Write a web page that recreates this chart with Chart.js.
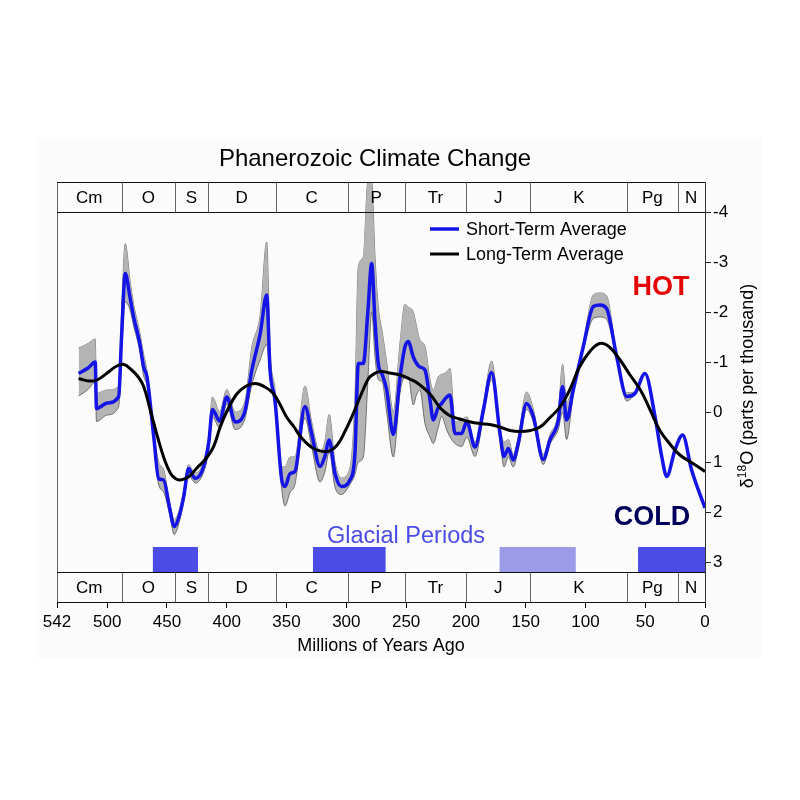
<!DOCTYPE html>
<html><head><meta charset="utf-8">
<script src="https://cdn.jsdelivr.net/npm/chart.js@4.4.0/dist/chart.umd.min.js"></script>
<style>html,body{margin:0;padding:0;background:#fff}canvas{display:block}</style>
</head><body>
<canvas id="c" width="800" height="800" style="width:800px;height:800px"></canvas>
<script>
// ---------------- DATA ----------------
const shortAges = [523.9,516,510,509,500,490.4,488,484.9,481,477.9,473,469.5,466.7,461.1,457,452.8,448,443.9,440,436,431.9,429,426.3,419.3,415,412,406,400,393,385,379,372,366.6,363.8,359.7,354,351.3,347,343,334.6,329,322,318,314.3,309.5,304,297,292.8,290,285.8,282,278.8,276,273.3,270,266.3,260.7,255,251,248.2,244,241.2,238.5,234.2,230,227.3,223,220.3,216,213.3,209.1,203.5,199.3,192.4,185.4,178.5,171.5,168.1,164.5,160.4,156.2,149.2,143.6,135.3,129.7,122.7,119.1,115.8,110.2,101.8,93.4,87.8,82.3,73.9,65.5,58.6,50.2,41.8,36.2,32,25.1,18.7,11.2,0];
const shortValues = [-0.77,-0.88,-1.0,-0.07,-0.18,-0.31,-1.5,-2.77,-2.3,-1.9,-1.4,-0.9,-0.7,0.49,1.33,1.36,1.9,2.29,2.1,1.69,1.13,1.25,1.33,1.09,0.6,-0.05,0.18,-0.3,0.2,0.0,-0.84,-1.57,-2.34,-0.84,-0.24,1.36,1.49,1.23,1.19,-0.11,0.43,1.09,0.89,0.56,1.23,1.49,1.36,0.83,-0.97,-0.97,-2.0,-2.97,-1.8,-0.97,-0.75,-0.45,0.45,-0.71,-1.3,-1.41,-1.1,-0.97,-0.9,-0.84,-0.24,0.16,-0.1,-0.17,-0.3,-0.34,0.43,0.43,0.19,0.7,-0.04,-0.79,0.43,0.89,0.73,0.96,0.63,-0.17,0.09,0.95,0.56,0.16,-0.51,0.16,-0.44,-1.31,-2.11,-2.14,-2.07,-1.11,-0.31,-0.37,-0.77,0.09,0.89,1.29,0.76,0.46,1.16,1.92];
// uncertainty envelope (same ages as shortAges, first entries)
const envUpper = [-1.28,-1.37,-1.46,-0.37,-0.44,-0.51,-2.0,-3.37,-2.65,-2.15,-1.62,-1.15,-0.82,0.38,1.0,1.15,1.78,2.15,1.98,1.58,1.05,1.15,1.22,0.98,0.45,-0.3,0.0,-0.45,0.0,-0.2,-1.3,-1.95,-3.4,-1.25,-0.45,1.1,1.1,0.9,0.9,-0.52,0.2,0.8,0.6,0.05,1.0,1.32,1.12,-0.3,-2.9,-3.1,-4.6,-4.6,-3.1,-2.1,-1.6,-1.0,0.0,-1.4,-2.15,-2.1,-2.0,-1.7,-1.44,-1.31,-0.64,-0.44,-0.71,-0.75,-0.8,-0.87,0.2,0.15,0.1,0.6,-0.15,-1.02,0.3,0.6,0.55,0.85,0.5,-0.4,-0.05,0.85,0.45,0.0,-0.95,-0.2,-0.55,-1.38,-2.34,-2.38,-2.32,-1.15,-0.38,-0.4];
const envLower = [-0.32,-0.45,-0.6,0.19,0.06,-0.11,-1.2,-2.2,-2.05,-1.72,-1.25,-0.72,-0.52,0.6,1.45,1.6,2.02,2.45,2.22,1.8,1.22,1.35,1.42,1.2,0.75,0.1,0.32,-0.15,0.35,0.15,-0.55,-1.05,-1.35,-0.68,-0.08,1.55,1.88,1.6,1.45,0.12,0.7,1.4,1.2,0.8,1.5,1.65,1.45,1.25,1.0,0.9,-0.6,-2.0,-1.1,-0.65,-0.6,0.0,0.9,-0.4,-0.7,-0.7,-0.14,-0.35,-0.44,0.23,0.5,0.63,0.3,0.09,0.36,0.5,0.63,0.69,0.5,0.89,0.1,-0.65,0.55,1.1,0.9,1.1,0.75,-0.05,0.2,1.05,0.65,0.35,0.0,0.55,-0.35,-1.24,-1.87,-1.9,-1.85,-1.07,-0.22,-0.34];
const longAges = [524,515,508.5,500,492,486,480,474,469.5,464,458,452,447,443,439,432,425,418,411,405.5,400,392,385,376,368,361,355,350,344,338,328,316,308,301,294,288,283,280,272,264,255,247,240,230,221,213,205,196,188,180,171.5,163,155,146,138,130,121,113,105,96,88,80,71,63,54,46,38,29,21,10,0];
const longValues = [-0.67,-0.62,-0.64,-0.78,-0.92,-0.95,-0.85,-0.7,-0.51,-0.04,0.49,0.96,1.23,1.33,1.36,1.3,1.12,0.95,0.69,0.3,-0.01,-0.35,-0.5,-0.57,-0.5,-0.37,-0.13,0.1,0.29,0.5,0.72,0.79,0.67,0.38,0.02,-0.33,-0.6,-0.71,-0.81,-0.78,-0.74,-0.66,-0.57,-0.36,-0.07,0.08,0.14,0.2,0.23,0.25,0.3,0.37,0.39,0.37,0.3,0.12,-0.11,-0.45,-0.9,-1.22,-1.37,-1.3,-1.04,-0.75,-0.44,-0.05,0.36,0.65,0.86,1.03,1.19];
const periodNames = ['Cm','O','S','D','C','P','Tr','J','K','Pg','N'];
const periodStarts = [542,488,443,416,359,299,251,200,146,65,23];
const glacialStart = [462,328,172,56];
const glacialEnd = [424,267,108,0];
const glacialStrong = [true,true,false,true];
const xTickValues = [542,500,450,400,350,300,250,200,150,100,50,0];
const yTickValues = [-4,-3,-2,-1,0,1,2,3];

// ---------------- LAYOUT / STYLE ----------------
const FONT = '"Liberation Sans", Arial, Helvetica, sans-serif';
const Y_MIN = -4.6, Y_MAX = 3.8;          // axis range incl. period bands
const TOP_BAND = [-4.6, -4], BOTTOM_BAND = [3.2, 3.8];
const GLACIAL_TOP = 2.7, GLACIAL_BASE = 3.2;
const BLUE = '#1414e6';

const pts = (xs, ys) => ys.map((v, i) => ({x: xs[i], y: v}));

const datasets = [
  {label:'envUpper', data: pts(shortAges, envUpper), borderColor:'#555', borderWidth:0.8,
   pointRadius:0, fill:false, cubicInterpolationMode:'monotone', order:10},
  {label:'envLower', data: pts(shortAges, envLower), borderColor:'#555', borderWidth:0.8,
   pointRadius:0, fill:'-1', backgroundColor:'#b4b4b4', cubicInterpolationMode:'monotone', order:9},
  {label:'Short-Term Average', data: pts(shortAges, shortValues), borderColor: BLUE, borderWidth:3.5,
   pointRadius:0, fill:false, cubicInterpolationMode:'monotone', order:2},
  {label:'Long-Term Average', data: pts(longAges, longValues), borderColor:'#000', borderWidth:3,
   pointRadius:0, fill:false, tension:0.4, order:1}
];
glacialStart.forEach((s, i) => {
  datasets.push({label:'Glacial ' + i,
    data: [{x:s, y:GLACIAL_TOP}, {x:glacialEnd[i], y:GLACIAL_TOP}],
    borderWidth:0, borderColor:'rgba(0,0,0,0)', pointRadius:0, tension:0,
    backgroundColor: glacialStrong[i] ? '#4b4be6' : '#9b9be8',
    fill:{value: GLACIAL_BASE}, order:5});
});

const decor = {
  id: 'decor',
  beforeDraw(chart) {
    const ctx = chart.ctx;
    ctx.save();
    ctx.fillStyle = '#fbfbfb';
    ctx.fillRect(36, 137, 726, 521);
    ctx.restore();
  },
  afterDatasetsDraw(chart) {
    const {ctx, chartArea: a, scales: {x, y}} = chart;
    ctx.save();
    // left frame line
    ctx.strokeStyle = '#666'; ctx.lineWidth = 1;
    ctx.beginPath(); ctx.moveTo(Math.round(a.left) + 0.5, a.top); ctx.lineTo(Math.round(a.left) + 0.5, a.bottom); ctx.stroke();
    // period bands
    [TOP_BAND, BOTTOM_BAND].forEach(b => {
      const y0 = Math.round(y.getPixelForValue(b[0])) + 0.5;
      const y1 = Math.round(y.getPixelForValue(b[1])) + 0.5;
      ctx.strokeStyle = '#111'; ctx.lineWidth = 1;
      ctx.beginPath();
      ctx.moveTo(a.left, y0); ctx.lineTo(a.right, y0);
      ctx.moveTo(a.left, y1); ctx.lineTo(a.right, y1);
      ctx.stroke();
      ctx.strokeStyle = '#666';
      ctx.beginPath();
      periodStarts.forEach((s, i) => {
        if (i === 0) return;
        const px = Math.round(x.getPixelForValue(s)) + 0.5;
        ctx.moveTo(px, Math.min(y0, y1)); ctx.lineTo(px, Math.max(y0, y1));
      });
      ctx.stroke();
      ctx.fillStyle = '#000';
      ctx.font = '17px ' + FONT;
      ctx.textAlign = 'center'; ctx.textBaseline = 'middle';
      const yc = (y0 + y1) / 2 + 1;
      periodNames.forEach((n, i) => {
        const e = i + 1 < periodStarts.length ? periodStarts[i + 1] : 0;
        ctx.fillText(n, x.getPixelForValue((periodStarts[i] + e) / 2), yc);
      });
    });
    // legend
    ctx.lineWidth = 3.5; ctx.strokeStyle = BLUE;
    ctx.beginPath(); ctx.moveTo(430, 229); ctx.lineTo(459, 229); ctx.stroke();
    ctx.lineWidth = 3; ctx.strokeStyle = '#000';
    ctx.beginPath(); ctx.moveTo(430, 254); ctx.lineTo(459, 254); ctx.stroke();
    ctx.fillStyle = '#000'; ctx.font = '18px ' + FONT;
    ctx.textAlign = 'left'; ctx.textBaseline = 'middle';
    ctx.fillText('Short-Term Average', 466, 230);
    ctx.fillText('Long-Term Average', 466, 255);
    // annotations
    ctx.textAlign = 'center';
    ctx.font = 'bold 27px ' + FONT; ctx.fillStyle = '#e60000';
    ctx.fillText('HOT', 661, 288);
    ctx.fillStyle = '#00005a';
    ctx.fillText('COLD', 652, 518);
    ctx.font = '23.5px ' + FONT; ctx.fillStyle = '#4b4be6';
    ctx.fillText('Glacial Periods', 406, 537);
    ctx.font = '24px ' + FONT; ctx.fillStyle = '#000';
    ctx.fillText('Phanerozoic Climate Change', 375, 159);
    // y-axis title with superscript
    ctx.translate(747, 386);
    ctx.rotate(-Math.PI / 2);
    ctx.textAlign = 'left'; ctx.textBaseline = 'alphabetic';
    const f1 = '18px ' + FONT, f2 = '12px ' + FONT;
    ctx.font = f1; const w1 = ctx.measureText('δ').width;
    ctx.font = f2; const w2 = ctx.measureText('18').width;
    ctx.font = f1; const w3 = ctx.measureText('O (parts per thousand)').width;
    let sx = -(w1 + w2 + w3) / 2;
    ctx.font = f1; ctx.fillText('δ', sx, 6); sx += w1;
    ctx.font = f2; ctx.fillText('18', sx, -1); sx += w2;
    ctx.font = f1; ctx.fillText('O (parts per thousand)', sx, 6);
    ctx.restore();
  }
};

new Chart(document.getElementById('c'), {
  type: 'line',
  data: { datasets },
  options: {
    responsive: false, animation: false, devicePixelRatio: 1,
    layout: { padding: { left: 57, top: 182, right: 0, bottom: 0 } },
    plugins: { legend: {display:false}, title: {display:false}, tooltip: {enabled:false}, filler: {propagate:false} },
    scales: {
      x: {
        type: 'linear', min: 0, max: 542, reverse: true,
        afterBuildTicks: s => { s.ticks = xTickValues.map(v => ({value: v})); },
        afterFit: s => { s.height = 198; },
        grid: { display: true, drawOnChartArea: false, drawTicks: true, tickLength: 6, color: '#000', lineWidth: 1 },
        border: { display: true, color: '#000', width: 1 },
        ticks: { font: {family: FONT, size: 17}, color: '#000', padding: 4, maxRotation: 0, autoSkip: false,
                 callback: v => String(v) },
        title: { display: true, text: 'Millions of Years Ago', font: {family: FONT, size: 18}, color: '#000',
                 padding: {top: 0, bottom: 143} }
      },
      y: {
        type: 'linear', position: 'right', min: Y_MIN, max: Y_MAX, reverse: true,
        afterBuildTicks: s => { s.ticks = yTickValues.map(v => ({value: v})); },
        afterFit: s => { s.width = 95; },
        grid: { display: true, drawOnChartArea: false, drawTicks: true, tickLength: 6, color: '#222', lineWidth: 1 },
        border: { display: true, color: '#333', width: 1 },
        ticks: { font: {family: FONT, size: 17}, color: '#000', padding: 2, autoSkip: false,
                 callback: v => String(v) }
      }
    }
  },
  plugins: [decor]
});
</script>
</body></html>
